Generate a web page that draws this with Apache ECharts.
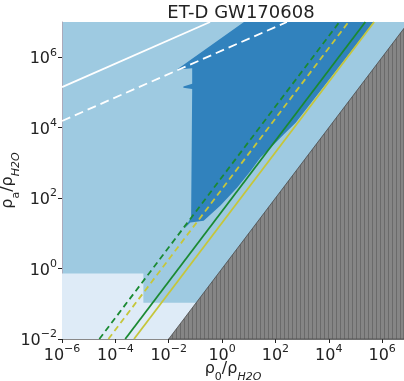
<!DOCTYPE html>
<html>
<head>
<meta charset="utf-8">
<script src="https://cdn.jsdelivr.net/npm/echarts@6/dist/echarts.min.js"></script>
<style>
  html, body { margin: 0; padding: 0; background: #fff; }
  #chart { width: 404px; height: 381px; }
</style>
</head>
<body>
<div id="chart"></div>
<script>
// all coordinates are log10 values (exponents) of rho0/rhoH2O and rho_a/rhoH2O
const xRange = [-6, 6.82]
const yRange = [-2, 7]
const tickExps = [-6, -4, -2, 0, 2, 4, 6]
const yTickExps = [-2, 0, 2, 4, 6]

// excluded low-density region (very light)
const lightRegion = [[-6, -2], [-6, -0.14], [-2.95, -0.14], [-2.95, -0.97], [0, -0.97], [0, -2]]
// detectable region (dark blue)
const darkRegion = [
  [0.82, 7], [5.69, 7], [2.76, 4.14], [2.32, 3.81], [1.82, 3.43], [1.44, 3.15],
  [1.07, 2.77], [0.57, 2.30], [-0.06, 1.79], [-0.69, 1.36], [-1.19, 1.31],
  [-1.41, 1.14], [-1.16, 1.45], [-1.12, 5.10], [-1.45, 5.13], [-1.45, 5.17],
  [-1.12, 5.25], [-1.12, 5.69], [-1.69, 5.65]
]
// rho_a < rho0 (hatched)
const grayRegion = [[-2, -2], [6.82, 6.82], [6.82, -2]]

const whiteSolid = [[-6, 5.15], [-0.45, 7]]
const whiteDashed = [[-6, 4.19], [2.43, 7]]
const greenDashed = [[-4.6, -2], [4.4, 7]]
const yellowDashed = [[-4.26, -2], [4.74, 7]]
const greenSolid = [[-3.63, -2], [5.37, 7]]
const yellowSolid = [[-3.3, -2], [5.7, 7]]

const hatch = document.createElement('canvas')
hatch.width = 4
hatch.height = 4
const hctx = hatch.getContext('2d')
hctx.fillStyle = '#858585'
hctx.fillRect(0, 0, 4, 4)
hctx.fillStyle = '#6a6a6a'
hctx.fillRect(0, 0, 1, 4)

const polySeries = (pts, style, z) => ({
  type: 'custom',
  data: pts,
  silent: true,
  z: z,
  renderItem: (params, api) => {
    if (params.dataIndex !== 0) return
    return {
      type: 'polygon',
      shape: { points: pts.map(p => api.coord(p)) },
      style: style
    }
  }
})

const lineSeries = (pts, color, dash, z) => ({
  type: 'line',
  data: pts,
  symbol: 'none',
  silent: true,
  z: z,
  lineStyle: { color: color, width: 1.8, type: dash || 'solid' }
})

const expLabel = v => {
  const e = v < 0 ? '\u2212' + (-v) : String(v)
  return '{b|10}{s|' + e + '}'
}

const labelRich = {
  b: { fontSize: 16, lineHeight: 20, verticalAlign: 'bottom', color: '#222', fontFamily: 'DejaVu Sans' },
  s: { fontSize: 11, lineHeight: 12, verticalAlign: 'top', color: '#222', fontFamily: 'DejaVu Sans' }
}

const nameRich = {
  r: { fontSize: 16, lineHeight: 22, verticalAlign: 'top', color: '#222', fontFamily: 'DejaVu Sans' },
  u: { fontSize: 11, lineHeight: 12, verticalAlign: 'bottom', color: '#222', fontFamily: 'DejaVu Sans' },
  i: { fontSize: 11, lineHeight: 12, verticalAlign: 'bottom', fontStyle: 'italic', color: '#222', fontFamily: 'DejaVu Sans' }
}

const chart = echarts.init(document.getElementById('chart'), null, { renderer: 'canvas' })

chart.setOption({
  animation: false,
  title: {
    text: 'ET-D GW170608',
    left: 236,
    top: -1,
    textAlign: 'center',
    textStyle: { fontSize: 18, fontWeight: 'normal', color: '#222', fontFamily: 'DejaVu Sans' }
  },
  grid: {
    left: 62, right: 0, top: 22, bottom: 42,
    containLabel: false,
    outerBoundsMode: 'none',
    show: true, backgroundColor: '#9ecae1', borderWidth: 0
  },
  xAxis: {
    type: 'value',
    min: xRange[0],
    max: xRange[1],
    interval: 2,
    name: '{r|\u03c1}{u|0}{r|/\u03c1}{i|H2O}',
    nameLocation: 'middle',
    nameGap: 22,
    nameMoveOverlap: false,
    nameTextStyle: { rich: nameRich },
    axisLine: { onZero: false, lineStyle: { color: '#888', width: 1 } },
    axisTick: { length: 4, lineStyle: { color: '#222' }, customValues: tickExps },
    axisLabel: { formatter: expLabel, rich: labelRich, margin: 5, customValues: tickExps },
    splitLine: { show: false }
  },
  yAxis: {
    type: 'value',
    min: yRange[0],
    max: yRange[1],
    interval: 2,
    name: '{r|\u03c1}{u|a}{r|/\u03c1}{i|H2O}',
    nameLocation: 'middle',
    nameGap: 40,
    nameRotate: 90,
    nameMoveOverlap: false,
    nameTextStyle: { rich: nameRich },
    axisLine: { show: true, onZero: false, lineStyle: { color: '#aab', width: 1 } },
    axisTick: { show: true, length: 4, lineStyle: { color: '#222' }, customValues: yTickExps },
    axisLabel: { formatter: expLabel, rich: labelRich, margin: 5, customValues: yTickExps },
    splitLine: { show: false }
  },
  series: [
    polySeries(lightRegion, { fill: '#deebf7' }, 1),
    polySeries(darkRegion, { fill: '#3182bd' }, 2),
    lineSeries(whiteSolid, '#ffffff', null, 3),
    lineSeries(whiteDashed, '#ffffff', [9, 5], 3),
    lineSeries(greenDashed, '#1a8a32', [6, 4], 3),
    lineSeries(yellowDashed, '#c6c63a', [6, 4], 3),
    lineSeries(greenSolid, '#1a8a32', null, 3),
    lineSeries(yellowSolid, '#c6c63a', null, 3),
    polySeries(grayRegion, { fill: { image: hatch, repeat: 'repeat' }, stroke: '#4a4a4a', lineWidth: 0.8 }, 4)
  ]
})
</script>
</body>
</html>
